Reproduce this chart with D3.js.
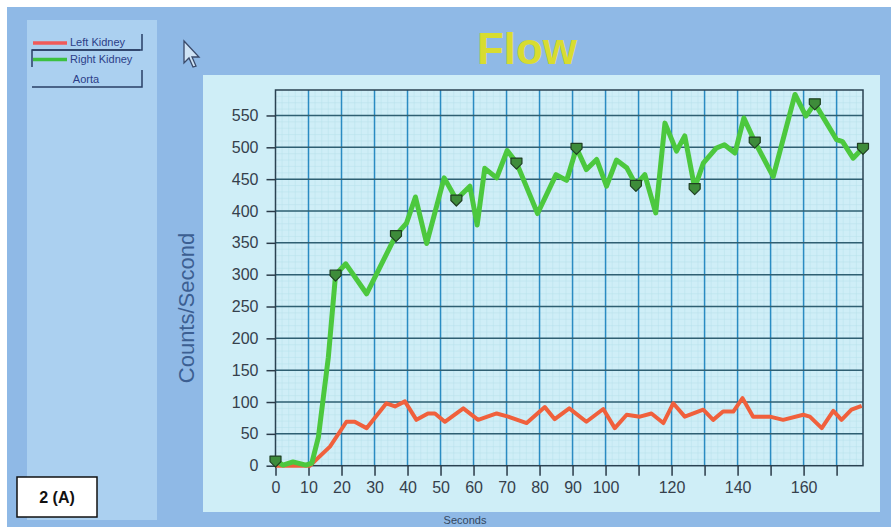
<!DOCTYPE html>
<meta charset="utf-8">
<script src="https://cdn.jsdelivr.net/npm/d3@7"></script>
<style>
	body{margin:0;background:#fff;font-family:"Liberation Sans",Arial,sans-serif;}
</style>
<div id='chart'></div>
<script>
// green = right kidney, red = left kidney
var greenTime = [0,2.3,5.3,9.2,11,13,16,18.2,21.3,27.6,36.5,39.7,42.4,45.8,51.1,54.8,58.9,61.1,63.4,67,70.2,73,79.4,85,88.2,91.2,94.2,97.3,100.3,103.3,106.4,109.2,111.9,115.2,118,121.5,124,127,129.6,133.6,136,139.2,141.9,145.2,150.8,157.4,160.7,163.4,170,171.8,175,178]
var greenVals = [8,1,6,1,4,45,170,300,317,270,362,381,422,349,452,418,439,378,467,452,495,476,396,457,448,499,465,481,439,480,468,441,457,397,538,494,518,436,475,499,504,491,546,509,454,583,549,569,512,509,483,499]
var markerTime = [0,18.2,36.5,54.8,73,91.2,109.2,127,145.2,163.4,178]

var redTime = [0,10.4,16.5,21.5,24,27.6,33.6,36.2,39.2,42.7,46.2,48.3,51.3,56.9,61.4,67,70.5,76.1,81.6,84.6,89,94.2,99.3,102.8,106.4,110.4,113.9,117.5,120.5,124,129.6,132.6,135.6,138.7,141.5,144.7,149.8,153.8,159.9,161.9,165.5,169,171.5,174.5,177.6]
var redVals = [0,0,30,69,69,59,98,93,101,72,82,82,69,90,72,82,77,67,92,73,90,69,89,59,80,77,82,67,98,77,88,72,85,85,106,77,77,72,80,77,59,86,72,88,94]

var yTicks = d3.range(0,551,50)
var xTicks = d3.range(0,171,10)
var xLabels = [0,10,20,30,40,50,60,70,80,90,100,120,140,160]
var legendNames = ["Left Kidney","Right Kidney","Aorta"]

var svg = d3.select("#chart").append("svg").attr("width",891).attr("height",527)

// screen backgrounds
svg.append("rect").attr("x",7).attr("y",7).attr("width",884).attr("height",520).attr("fill","#8fb9e6")
svg.append("rect").attr("x",27).attr("y",20).attr("width",130).attr("height",500).attr("fill","#abd0f0")
svg.append("rect").attr("x",203).attr("y",75).attr("width",677).attr("height",437).attr("fill","#cfeef7")

svg.append("text").attr("x",527).attr("y",64).attr("text-anchor","middle")
	.attr("font-size",44).attr("font-weight","bold").attr("fill","#d8dc30").text("Flow")

// mouse pointer
svg.append("path").attr("d","M184,41 L184,63 L189,58 L193,67 L196,66 L192,57 L199,57 Z")
	.attr("fill","#cfe3f5").attr("stroke","#3a4a6a").attr("stroke-width",1.3)

var xScale = d3.scaleLinear().domain([0,178]).range([275.5,863])
var yScale = d3.scaleLinear().domain([0,590]).range([465.7,90])

// fine graph paper
var g = svg.append("g")
g.selectAll(".mx").data(d3.range(2,178,2)).enter().append("line")
	.attr("x1",d=>xScale(d)).attr("x2",d=>xScale(d)).attr("y1",yScale(590)).attr("y2",yScale(0))
	.attr("stroke","#b6e0ea").attr("stroke-width",0.5)
g.selectAll(".my").data(d3.range(10,590,10)).enter().append("line")
	.attr("x1",xScale(0)).attr("x2",xScale(178)).attr("y1",d=>yScale(d)).attr("y2",d=>yScale(d))
	.attr("stroke","#b6e0ea").attr("stroke-width",0.5)

// major grid
g.selectAll(".gx").data(xTicks.slice(1)).enter().append("line")
	.attr("x1",d=>xScale(d)).attr("x2",d=>xScale(d)).attr("y1",yScale(590)).attr("y2",yScale(0))
	.attr("stroke","#2a8bc2").attr("stroke-width",1.5)
g.selectAll(".gy").data(yTicks.slice(1)).enter().append("line")
	.attr("x1",xScale(0)).attr("x2",xScale(178)).attr("y1",d=>yScale(d)).attr("y2",d=>yScale(d))
	.attr("stroke","#2f5f72").attr("stroke-width",1.5)

g.append("rect").attr("x",xScale(0)).attr("y",yScale(590))
	.attr("width",xScale(178)-xScale(0)).attr("height",yScale(0)-yScale(590))
	.attr("fill","none").attr("stroke","#2a4252").attr("stroke-width",1.5)

var yAxis = d3.axisLeft(yScale).tickValues(yTicks).tickSize(9).tickPadding(8)
var xAxis = d3.axisBottom(xScale).tickValues(xTicks).tickSize(10).tickPadding(6)
	.tickFormat(d=>xLabels.indexOf(d)>-1 ? d : "")

var ya = svg.append("g").attr("transform","translate("+xScale(0)+",0)").call(yAxis)
var xa = svg.append("g").attr("transform","translate(0,"+yScale(0)+")").call(xAxis)
;[ya,xa].forEach(function(a){
	a.select(".domain").remove()
	a.selectAll("line").attr("stroke","#2a3a48").attr("stroke-width",1.5)
	a.selectAll("text").attr("font-size",16).attr("fill","#35404c").attr("font-family","Liberation Sans, Arial")
})

svg.append("text").attr("transform","translate(194,308) rotate(-90)").attr("text-anchor","middle")
	.attr("font-size",22).attr("fill","#3c5f92").text("Counts/Second")
svg.append("text").attr("x",465).attr("y",524).attr("text-anchor","middle")
	.attr("font-size",11).attr("fill","#33475e").text("Seconds")

var line = d3.line().x(d=>xScale(d[0])).y(d=>yScale(d[1]))
var red = redTime.map((t,i)=>[t,redVals[i]])
var green = greenTime.map((t,i)=>[t,greenVals[i]])

svg.append("path").datum(red).attr("d",line).attr("fill","none")
	.attr("stroke","#f0603c").attr("stroke-width",4).attr("stroke-linejoin","round")
svg.append("path").datum(green).attr("d",line).attr("fill","none")
	.attr("stroke","#4cc83e").attr("stroke-width",5).attr("stroke-linejoin","round")

// down pointing shield markers
var shield = "M-5.5,-4.5 L5.5,-4.5 L5.5,1 L0,6.5 L-5.5,1 Z"
svg.selectAll(".mk").data(markerTime).enter().append("path")
	.attr("d",shield)
	.attr("transform",function(t){
		var v = greenVals[greenTime.indexOf(t)]
		return "translate("+xScale(t)+","+yScale(v)+")"
	})
	.attr("fill","#3e8c3a").attr("stroke","#1f3f22").attr("stroke-width",1.2).attr("stroke-linejoin","round")

// legend buttons
var lg = svg.append("g")
var btnY = [34,50,70]
var btnH = [16,17,17]
legendNames.forEach(function(n,i){
	var y0 = btnY[i], y1 = btnY[i]+btnH[i]
	if(i==1){
		lg.append("path").attr("d","M32,"+y1+" L32,"+y0+" L140,"+y0)
			.attr("fill","none").attr("stroke","#2a3f66").attr("stroke-width",1.5)
	}else{
		lg.append("path").attr("d","M32,"+y1+" L142,"+y1+" L142,"+y0)
			.attr("fill","none").attr("stroke","#2a3f66").attr("stroke-width",1.5)
	}
	var cy = (y0+y1)/2
	if(i<2){
		lg.append("line").attr("x1",33).attr("x2",67).attr("y1",cy+1).attr("y2",cy+1)
			.attr("stroke",i==0?"#f05a5a":"#3cc040").attr("stroke-width",3.5)
		lg.append("text").attr("x",70).attr("y",cy+4).attr("font-size",11)
			.attr("fill","#2b3e88").text(n)
	}else{
		lg.append("text").attr("x",86).attr("y",cy+4).attr("text-anchor","middle").attr("font-size",11)
			.attr("fill","#2b3e88").text(n)
	}
})

// figure label
svg.append("rect").attr("x",17).attr("y",477).attr("width",80).attr("height",40)
	.attr("fill","#fff").attr("stroke","#111").attr("stroke-width",1.5)
svg.append("text").attr("x",57).attr("y",503).attr("text-anchor","middle")
	.attr("font-size",16).attr("font-weight","bold").attr("fill","#111").text("2 (A)")
</script>
